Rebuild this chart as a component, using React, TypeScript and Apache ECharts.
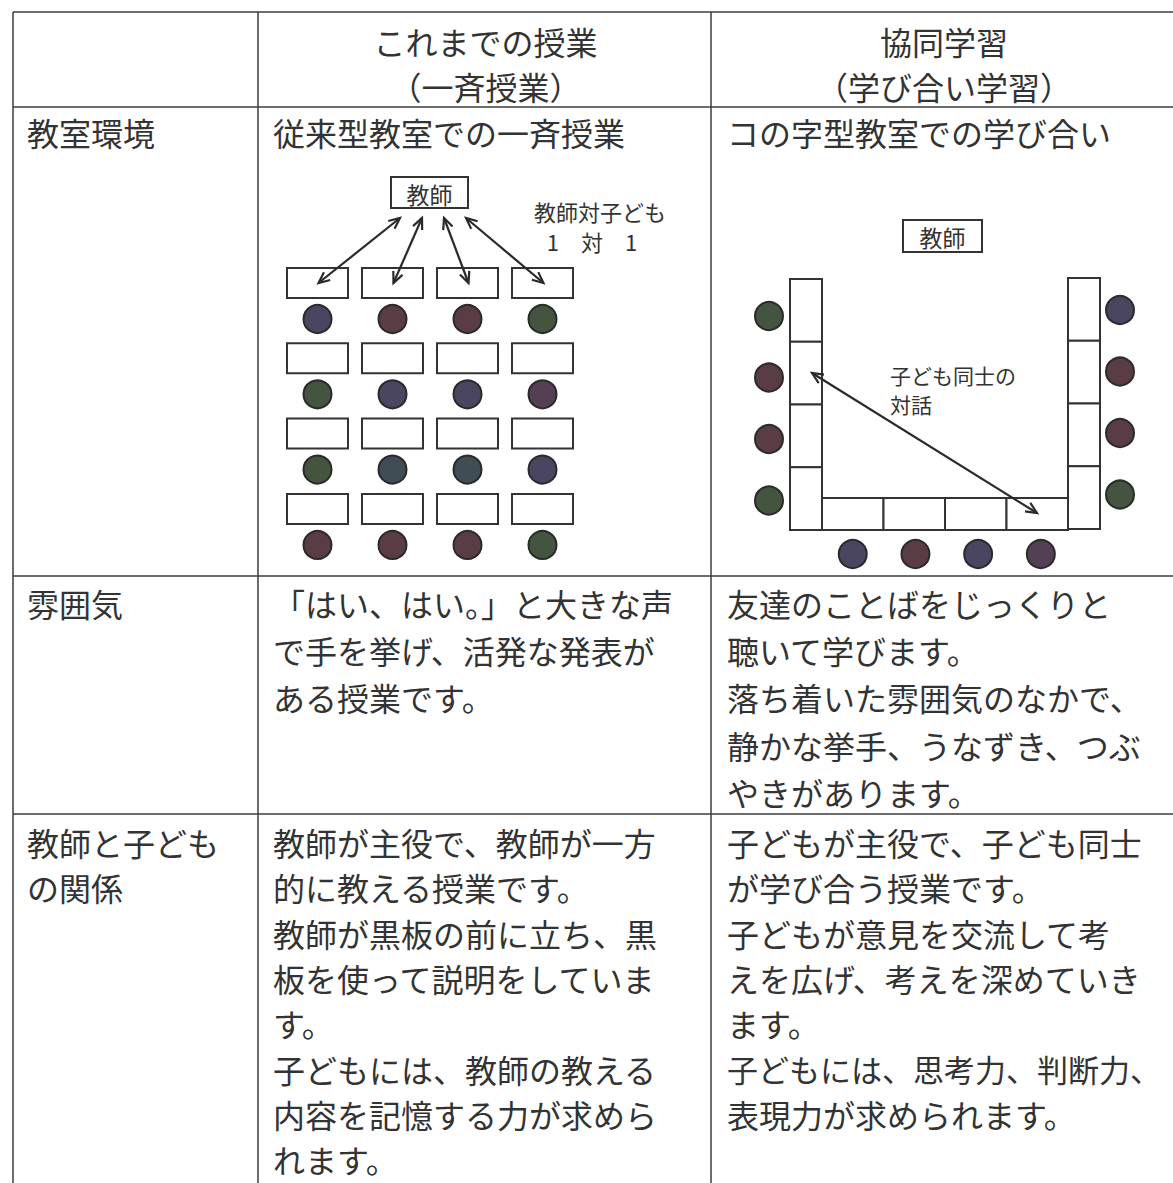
import React, { useEffect, useRef } from "react";
import * as echarts from "echarts";

// ---- content ----
const headerCol2 = ["これまでの授業", "（一斉授業）"];
const headerCol3 = ["協同学習", "（学び合い学習）"];
const rowLabels = [["教室環境"], ["雰囲気"], ["教師と子ども", "の関係"]];
const classroomTitles = ["従来型教室での一斉授業", "コの字型教室での学び合い"];
const atmosphereCol2 = ["「はい、はい。」と大きな声", "で手を挙げ、活発な発表が", "ある授業です。"];
const atmosphereCol3 = [
  "友達のことばをじっくりと",
  "聴いて学びます。",
  "落ち着いた雰囲気のなかで、",
  "静かな挙手、うなずき、つぶ",
  "やきがあります。",
];
const relationCol2 = [
  "教師が主役で、教師が一方",
  "的に教える授業です。",
  "教師が黒板の前に立ち、黒",
  "板を使って説明をしていま",
  "す。",
  "子どもには、教師の教える",
  "内容を記憶する力が求めら",
  "れます。",
];
const relationCol3 = [
  "子どもが主役で、子ども同士",
  "が学び合う授業です。",
  "子どもが意見を交流して考",
  "えを広げ、考えを深めていき",
  "ます。",
  "子どもには、思考力、判断力、",
  "表現力が求められます。",
];
const teacherLabel = "教師";
const oneToOneLabel = ["教師対子ども", "1　対　1"];
const dialogueLabel = ["子ども同士の", "対話"];

// seat colour codes (P purple, M maroon, G green, R plum, T teal-grey)
const traditionalSeats = [
  ["P", "M", "M", "G"],
  ["G", "P", "P", "R"],
  ["G", "T", "T", "P"],
  ["M", "M", "M", "G"],
];
const uLeftSeats = ["G", "M", "M", "G"];
const uRightSeats = ["P", "M", "M", "G"];
const uBottomSeats = ["P", "M", "P", "R"];
const seatColors: Record<string, string> = {
  P: "#4a4661",
  M: "#5a3d44",
  G: "#43543f",
  R: "#553f55",
  T: "#404d55",
};

// ---- styling / layout ----
const FONT = "'Noto Sans CJK JP', 'Noto Sans', sans-serif";
const INK = "#333333";
const LINE = "#3c3c3c";
const W = 1173;
const H = 1183;

function buildElements() {
  const els: any[] = [];
  const text = (t: string, x: number, y: number, size: number, align = "left") =>
    els.push({
      type: "text",
      x,
      y,
      silent: true,
      style: { text: t, fontSize: size, fontFamily: FONT, fill: INK, align, verticalAlign: "middle" },
    });
  const line = (x1: number, y1: number, x2: number, y2: number, w = 1.5, c = LINE) =>
    els.push({ type: "line", silent: true, shape: { x1, y1, x2, y2 }, style: { stroke: c, lineWidth: w } });
  const rect = (x: number, y: number, w: number, h: number) =>
    els.push({
      type: "rect",
      silent: true,
      shape: { x, y, width: w, height: h },
      style: { fill: "#fff", stroke: "#333", lineWidth: 2 },
    });
  const seat = (cx: number, cy: number, code: string) =>
    els.push({
      type: "circle",
      silent: true,
      shape: { cx, cy, r: 14 },
      style: { fill: seatColors[code], stroke: "#2a2a2a", lineWidth: 2 },
    });
  const arrow = (x1: number, y1: number, x2: number, y2: number) => {
    line(x1, y1, x2, y2, 2.2, "#2a2a2a");
    const dx = x2 - x1;
    const dy = y2 - y1;
    const len = Math.hypot(dx, dy);
    const ux = dx / len;
    const uy = dy / len;
    const nx = -uy;
    const ny = ux;
    const L = 11;
    const Wd = 5;
    const head = (px: number, py: number, sx: number, sy: number) =>
      els.push({
        type: "polyline",
        silent: true,
        shape: {
          points: [
            [px - L * sx + Wd * nx, py - L * sy + Wd * ny],
            [px, py],
            [px - L * sx - Wd * nx, py - L * sy - Wd * ny],
          ],
        },
        style: { stroke: "#2a2a2a", lineWidth: 2.2, fill: null },
      });
    head(x2, y2, ux, uy);
    head(x1, y1, -ux, -uy);
  };

  // table grid
  const xL = 13, x1 = 258, x2 = 711, xR = 1177;
  const yT = 12, yH = 107, y1 = 576, y2 = 814, yB = H + 5;
  [yT, yH, y1, y2].forEach((y) => line(xL, y, W + 5, y));
  [xL, x1, x2, xR].forEach((x) => line(x, yT, x, yB));

  // header
  const c2 = (x1 + x2) / 2 + 1;
  const c3 = (x2 + xR) / 2;
  const FS = 32;
  headerCol2.forEach((t, i) => text(t, c2, 41 + i * 45, FS, "center"));
  headerCol3.forEach((t, i) => text(t, c3, 41 + i * 45, FS, "center"));

  // row labels
  const lx = 27;
  text(rowLabels[0][0], lx, 132, FS);
  text(rowLabels[1][0], lx, 603, FS);
  rowLabels[2].forEach((t, i) => text(t, lx, 842 + i * 45.3, FS));

  const tx2 = 273;
  const tx3 = 727;
  text(classroomTitles[0], tx2, 132, FS);
  text(classroomTitles[1], tx3, 132, FS);

  atmosphereCol2.forEach((t, i) => text(t, tx2, 603 + i * 47.2, FS));
  atmosphereCol3.forEach((t, i) => text(t, tx3, 603 + i * 47.2, FS));
  relationCol2.forEach((t, i) => text(t, tx2, 842 + i * 45.3, FS));
  relationCol3.forEach((t, i) => text(t, tx3, 842 + i * 45.3, t.length > 13 ? 31 : FS));

  // ---- traditional classroom diagram ----
  const tb = { x: 391, y: 177, w: 77, h: 31 };
  rect(tb.x, tb.y, tb.w, tb.h);
  text(teacherLabel, tb.x + tb.w / 2, tb.y + tb.h / 2 + 1, 23, "center");
  text(oneToOneLabel[0], 600, 211, 22, "center");
  text(oneToOneLabel[1], 592, 241, 22, "center");
  const deskX0 = 287, deskDX = 75, deskW = 61, deskH = 30, deskY0 = 268, deskDY = 75.3;
  traditionalSeats.forEach((row, r) => {
    row.forEach((code, c) => {
      const dx = deskX0 + c * deskDX;
      const dy = deskY0 + r * deskDY;
      rect(dx, dy, deskW, deskH);
      seat(dx + deskW / 2, dy + 51, code);
    });
  });
  for (let c = 0; c < 4; c++) {
    arrow(400 + c * 22, 218, deskX0 + c * deskDX + deskW / 2 + 1, deskY0 + 15);
  }

  // ---- U-shaped classroom diagram ----
  const ub = { x: 903, y: 220, w: 79, h: 32 };
  rect(ub.x, ub.y, ub.w, ub.h);
  text(teacherLabel, ub.x + ub.w / 2, ub.y + ub.h / 2 + 1, 23, "center");
  const sideW = 32, leftX = 790, rightX = 1068, colTop = 279, colBottom = 530;
  const sideH = (colBottom - colTop) / 4;
  for (let i = 0; i < 4; i++) {
    rect(leftX, colTop + i * sideH, sideW, sideH);
    rect(rightX, colTop - 1 + i * sideH, sideW, sideH);
  }
  const botY = 498;
  const botW = (rightX - (leftX + sideW)) / 4;
  for (let i = 0; i < 4; i++) rect(leftX + sideW + i * botW, botY, botW, colBottom - botY);
  uLeftSeats.forEach((code, i) => seat(769, 316 + i * 61.5, code));
  uRightSeats.forEach((code, i) => seat(1120, 310 + i * 61.5, code));
  uBottomSeats.forEach((code, i) => seat(leftX + sideW + botW / 2 + i * botW + i * 1.2, 554, code));
  arrow(812, 373, 1037, 513);
  text(dialogueLabel[0], 890, 375, 21);
  text(dialogueLabel[1], 890, 404, 21);

  return els;
}

export default function App() {
  const ref = useRef<HTMLDivElement>(null);
  useEffect(() => {
    if (!ref.current) return;
    const chart = echarts.init(ref.current, undefined, { renderer: "svg" });
    chart.setOption({
      animation: false,
      backgroundColor: "#ffffff",
      graphic: { elements: buildElements() },
    });
    return () => chart.dispose();
  }, []);
  return (
    <div
      ref={ref}
      style={{ position: "absolute", left: 0, top: 0, width: W, height: H, background: "#fff" }}
    />
  );
}
